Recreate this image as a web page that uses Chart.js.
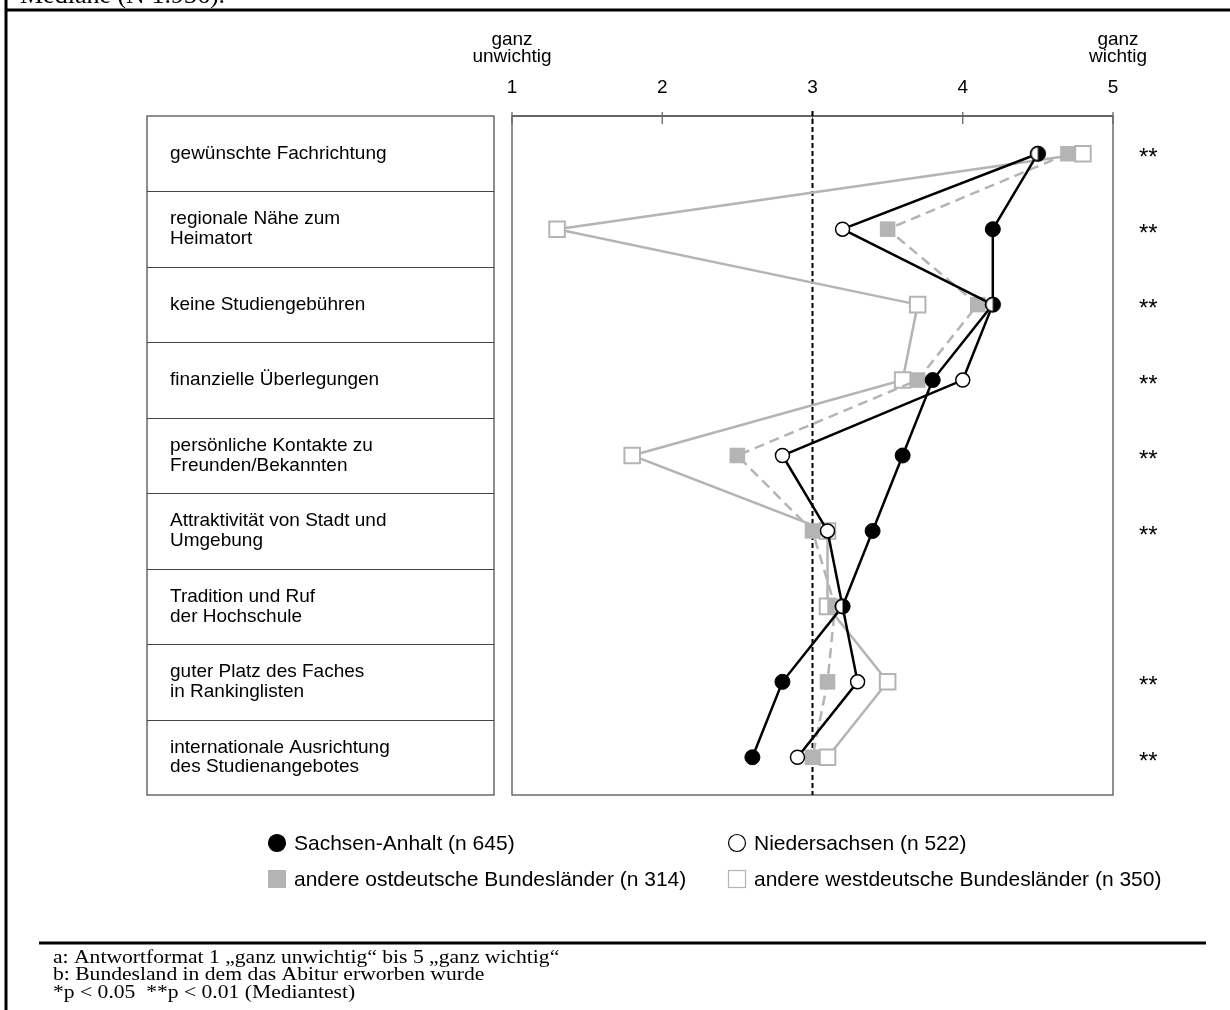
<!DOCTYPE html>
<html>
<head>
<meta charset="utf-8">
<script src="https://cdn.jsdelivr.net/npm/chart.js@4.4.1/dist/chart.umd.min.js"></script>
<style>
  body { margin: 0; background: #fff; }
  #wrap { width: 1230px; height: 1010px; position: relative; }
</style>
</head>
<body>
<div id="wrap"><canvas id="motive"></canvas></div>
<script>
// Gründe für die Hochschulwahl, Mediane nach Bundesland des Abiturs
const categories = [
    'gewünschte Fachrichtung',
    ['regionale Nähe zum', 'Heimatort'],
    'keine Studiengebühren',
    'finanzielle Überlegungen',
    ['persönliche Kontakte zu', 'Freunden/Bekannten'],
    ['Attraktivität von Stadt und', 'Umgebung'],
    ['Tradition und Ruf', 'der Hochschule'],
    ['guter Platz des Faches', 'in Rankinglisten'],
    ['internationale Ausrichtung', 'des Studienangebotes']
];
const sachsenAnhalt = [4.5, 4.2, 4.2, 3.8, 3.6, 3.4, 3.2, 2.8, 2.6];
const niedersachsen = [4.5, 3.2, 4.2, 4.0, 2.8, 3.1, 3.2, 3.3, 2.9];
const andereOst     = [4.7, 3.5, 4.1, 3.7, 2.5, 3.0, 3.15, 3.1, 3.0];
const andereWest    = [4.8, 1.3, 3.7, 3.6, 1.8, 3.1, 3.1, 3.5, 3.1];
const signifikanz   = ['**', '**', '**', '**', '**', '**', '', '**', '**'];
const seriesLabels  = ['Sachsen-Anhalt (n 645)', 'Niedersachsen (n 522)',
                       'andere ostdeutsche Bundesländer (n 314)', 'andere westdeutsche Bundesländer (n 350)'];
const scaleTicks    = [1, 2, 3, 4, 5];
const endLabels     = { 1: ['ganz', 'unwichtig'], 5: ['ganz', 'wichtig'] };
const mittelwert    = 3;
const titleText     = 'Mediane (N 1.936).';
const footnotes     = ['a: Antwortformat 1 \u201Eganz unwichtig\u201C bis 5 \u201Eganz wichtig\u201C',
                       'b: Bundesland in dem das Abitur erworben wurde',
                       '*p < 0.05  **p < 0.01 (Mediantest)'];

const SANS = '"Liberation Sans", Arial, sans-serif';
const SERIF = '"Liberation Serif", "Times New Roman", serif';
const GREY = '#b4b4b4';

// halb gefüllter Kreis, wenn Sachsen-Anhalt und Niedersachsen gleich liegen
function halfDot(r) {
    const c = document.createElement('canvas');
    const s = Math.ceil(2 * r + 4);
    c.width = s; c.height = s;
    const g = c.getContext('2d');
    const m = s / 2;
    g.beginPath(); g.arc(m, m, r, 0, 2 * Math.PI); g.fillStyle = '#fff'; g.fill();
    g.beginPath(); g.arc(m, m, r, -Math.PI / 2, Math.PI / 2); g.fillStyle = '#000'; g.fill();
    g.beginPath(); g.arc(m, m, r - 0.5, 0, 2 * Math.PI); g.lineWidth = 1.5; g.strokeStyle = '#000'; g.stroke();
    return c;
}
const halfImg = halfDot(7.5);

const decor = {
    id: 'decor',
    beforeDatasetsDraw(chart) {
        const { ctx, chartArea: a, scales: { x } } = chart;
        ctx.save();
        // Rahmen des Diagramms
        ctx.strokeStyle = '#555';
        ctx.lineWidth = 1.3;
        ctx.strokeRect(a.left, a.top, a.right - a.left, a.bottom - a.top);
        ctx.strokeStyle = '#666';
        ctx.lineWidth = 2;
        ctx.beginPath(); ctx.moveTo(a.left, a.top); ctx.lineTo(a.right, a.top); ctx.stroke();
        // Striche an der Skala
        ctx.lineWidth = 1.3;
        scaleTicks.forEach(v => {
            const px = x.getPixelForValue(v);
            ctx.beginPath(); ctx.moveTo(px, a.top - 4); ctx.lineTo(px, a.top + 8); ctx.stroke();
        });
        // gestrichelte Linie bei 3
        const mx = x.getPixelForValue(mittelwert);
        ctx.strokeStyle = '#000';
        ctx.lineWidth = 2;
        ctx.setLineDash([5, 3]);
        ctx.beginPath(); ctx.moveTo(mx, a.top - 5); ctx.lineTo(mx, a.bottom); ctx.stroke();
        ctx.restore();
    },
    afterDraw(chart) {
        const { ctx, chartArea: a, scales: { x, y } } = chart;
        ctx.save();
        // äußerer Rahmen und abgeschnittener Titel
        ctx.fillStyle = '#000';
        ctx.font = '26px ' + SERIF;
        ctx.textBaseline = 'alphabetic';
        ctx.textAlign = 'left';
        ctx.fillText(titleText, 20, 3);
        ctx.strokeStyle = '#000';
        ctx.lineWidth = 3;
        ctx.beginPath(); ctx.moveTo(5, 10); ctx.lineTo(1230, 10); ctx.stroke();
        ctx.beginPath(); ctx.moveTo(6, 0); ctx.lineTo(6, 1010); ctx.stroke();

        // Tabelle der Gründe
        const tl = 147, tr = 494;
        ctx.strokeStyle = '#444';
        ctx.lineWidth = 1.2;
        ctx.strokeRect(tl, a.top, tr - tl, a.bottom - a.top);
        for (let i = 0; i < categories.length - 1; i++) {
            const yy = Math.round((y.getPixelForValue(i) + y.getPixelForValue(i + 1)) / 2) + 0.5;
            ctx.beginPath(); ctx.moveTo(tl, yy); ctx.lineTo(tr, yy); ctx.stroke();
        }

        // ganz unwichtig / ganz wichtig
        ctx.font = '19px ' + SANS;
        ctx.textAlign = 'center';
        ctx.textBaseline = 'middle';
        Object.keys(endLabels).forEach(k => {
            const px = x.getPixelForValue(+k) + (k === '5' ? 5 : 0);
            endLabels[k].forEach((t, j) => ctx.fillText(t, px, 40 + j * 17));
        });

        // Signifikanzsterne
        ctx.textAlign = 'left';
        ctx.font = '24px ' + SANS;
        signifikanz.forEach((s, i) => {
            if (s) ctx.fillText(s, 1139, y.getPixelForValue(i) + 5);
        });

        // Legende
        const ds = chart.data.datasets;
        const cols = [277, 737], rows = [843, 879];
        ctx.font = '21px ' + SANS;
        ds.forEach((d, i) => {
            const cx = cols[i % 2], cy = rows[Math.floor(i / 2)];
            ctx.fillStyle = d.pointBackgroundColor;
            ctx.strokeStyle = d.pointBorderColor;
            ctx.lineWidth = 1.2;
            if (d.pointStyle === 'rect') {
                ctx.fillRect(cx - 9, cy - 9, 18, 18);
                if (d.pointBackgroundColor === '#fff') ctx.strokeRect(cx - 8.5, cy - 8.5, 17, 17);
            } else {
                ctx.beginPath(); ctx.arc(cx, cy, 8.5, 0, 2 * Math.PI); ctx.fill();
                ctx.stroke();
            }
            ctx.fillStyle = '#000';
            ctx.fillText(d.label, cx + 17, cy + 1);
        });

        // Fußnoten (Schrift in der Vorlage breit gezogen)
        ctx.strokeStyle = '#000';
        ctx.lineWidth = 3;
        ctx.beginPath(); ctx.moveTo(39, 943); ctx.lineTo(1206, 943); ctx.stroke();
        ctx.font = '18px ' + SERIF;
        footnotes.forEach((t, i) => {
            ctx.save();
            ctx.translate(53, 958 + i * 17.5);
            ctx.scale(1.2, 1);
            ctx.fillText(t, 0, 0);
            ctx.restore();
        });
        ctx.restore();
    }
};

const ctx = document.getElementById('motive').getContext('2d');
new Chart(ctx, {
    type: 'line',
    data: {
        labels: categories,
        datasets: [
            {
                label: seriesLabels[0],
                data: sachsenAnhalt,
                borderColor: '#000',
                borderWidth: 2.5,
                pointStyle: 'circle',
                pointRadius: 7.5,
                pointBackgroundColor: '#000',
                pointBorderColor: '#000',
                pointBorderWidth: 1,
                order: 1
            },
            {
                label: seriesLabels[1],
                data: niedersachsen,
                borderColor: '#000',
                borderWidth: 2.5,
                pointStyle: c => (c.type === 'data' && sachsenAnhalt[c.dataIndex] === niedersachsen[c.dataIndex]) ? halfImg : 'circle',
                pointRadius: 7,
                pointBackgroundColor: '#fff',
                pointBorderColor: '#000',
                pointBorderWidth: 1.5,
                order: 0
            },
            {
                label: seriesLabels[2],
                data: andereOst,
                borderColor: GREY,
                borderWidth: 2.5,
                borderDash: [10, 6],
                pointStyle: 'rect',
                pointRadius: 11,
                pointBackgroundColor: GREY,
                pointBorderColor: GREY,
                pointBorderWidth: 0,
                order: 2
            },
            {
                label: seriesLabels[3],
                data: andereWest,
                borderColor: GREY,
                borderWidth: 2.5,
                pointStyle: 'rect',
                pointRadius: 11,
                pointBackgroundColor: '#fff',
                pointBorderColor: GREY,
                pointBorderWidth: 2,
                order: 3
            }
        ]
    },
    options: {
        indexAxis: 'y',
        responsive: true,
        maintainAspectRatio: false,
        animation: false,
        layout: { padding: { left: 170, top: 20, right: 117, bottom: 215 } },
        scales: {
            x: {
                type: 'linear',
                position: 'top',
                min: scaleTicks[0],
                max: scaleTicks[scaleTicks.length - 1],
                afterFit: s => { s.height = 96; },
                grid: { display: false, drawTicks: false },
                border: { display: false },
                ticks: { stepSize: 1, color: '#000', padding: 17, font: { family: SANS, size: 19 } }
            },
            y: {
                type: 'category',
                offset: true,
                afterFit: s => { s.width = 342; },
                grid: { display: false, drawTicks: false },
                border: { display: false },
                ticks: {
                    color: '#000',
                    crossAlign: 'far',
                    padding: 0,
                    autoSkip: false,
                    font: { family: SANS, size: 19, lineHeight: 1.05 }
                }
            }
        },
        plugins: {
            legend: { display: false },
            tooltip: { enabled: false }
        }
    },
    plugins: [decor]
});
</script>
</body>
</html>
